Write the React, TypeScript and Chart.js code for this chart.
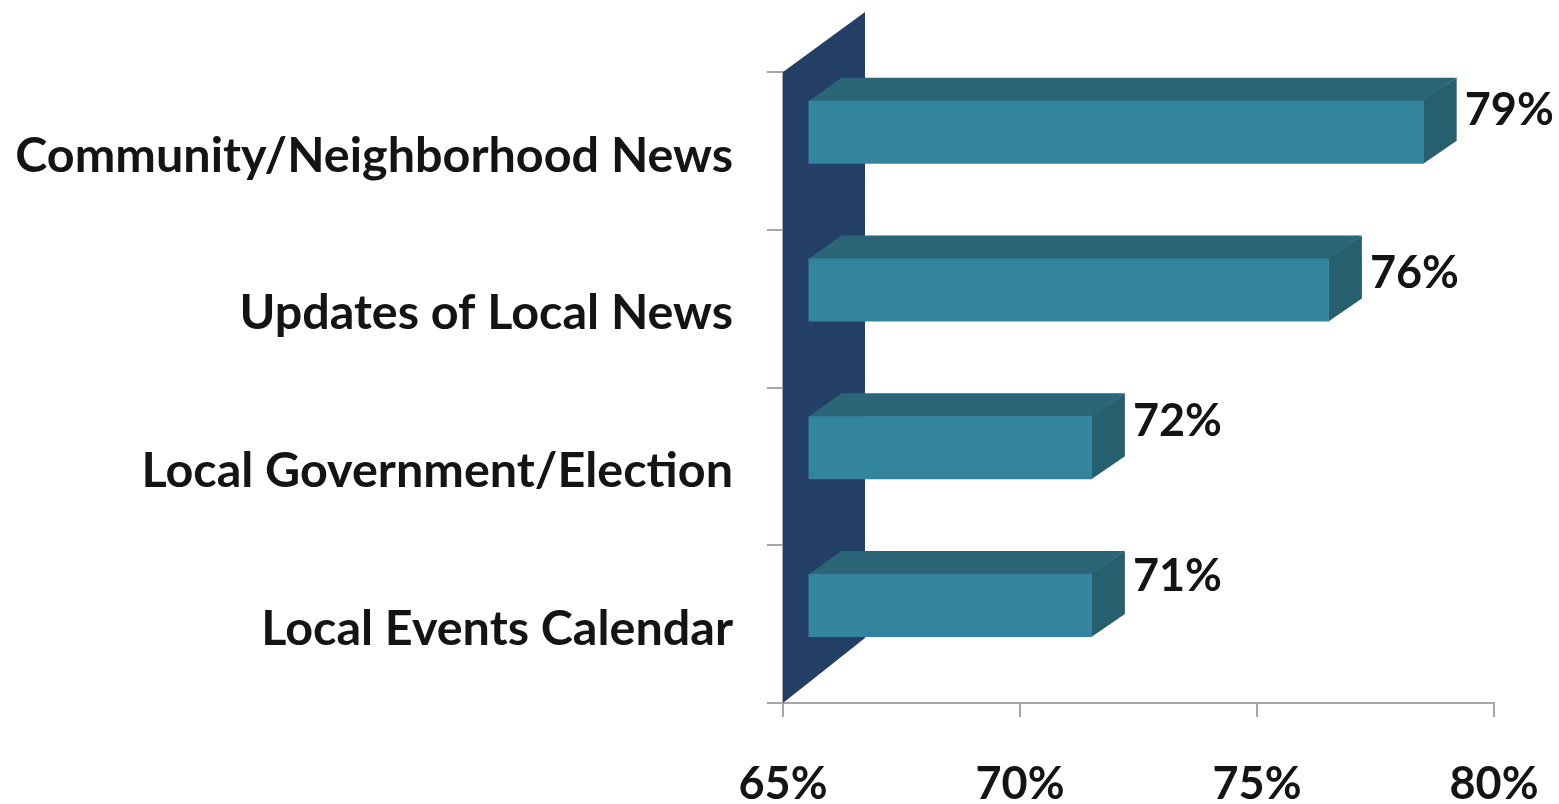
import React, { useEffect, useRef } from "react";
import { Chart, registerables } from "chart.js";

Chart.register(...registerables);

const categories = [
  "Community/Neighborhood News",
  "Updates of Local News",
  "Local Government/Election",
  "Local Events Calendar",
];
// Length of each drawn bar as it reads against the axis
const barValues = [78, 76, 71, 71];
// Data labels as printed beside each bar
const printedLabels = ["79%", "76%", "72%", "71%"];
const labelNudgeY = [-22, -17, -26, -29];
const xTicks = [65, 70, 75, 80];

const FRONT = "#33859F";
const TOP = "#2A6678";
const SIDE = "#265F6E";
const WALL = "#243F66";
const AXIS = "#A6A6A6";
const TEXT = "#141414";
const FONT = "Lato";

const SHIFT_X = 24.5;
const SHIFT_Y = -18.6;
const DEPTH_X = 33;
const DEPTH_Y = 23;

const poly = (ctx: CanvasRenderingContext2D, pts: number[][], fill: string) => {
  ctx.beginPath();
  pts.forEach(([x, y], i) => (i ? ctx.lineTo(x, y) : ctx.moveTo(x, y)));
  ctx.closePath();
  ctx.fillStyle = fill;
  ctx.fill();
};

const bar3d = {
  id: "bar3d",
  beforeDatasetsDraw(chart: any) {
    const { ctx, chartArea: a } = chart;
    poly(
      ctx,
      [
        [a.left, a.top],
        [a.left + 82, a.top - 60],
        [a.left + 82, a.bottom - 65],
        [a.left, a.bottom],
      ],
      WALL
    );
  },
  beforeDatasetDraw(chart: any) {
    const { ctx } = chart;
    const els = chart.getDatasetMeta(0).data;
    els.forEach((el: any) => {
      const half = el.height / 2;
      const top = el.y - half + SHIFT_Y;
      const bottom = el.y + half + SHIFT_Y;
      const l = el.base + SHIFT_X;
      const r = el.x + SHIFT_X;
      poly(ctx, [[l, top + 0.5], [l + DEPTH_X, top - DEPTH_Y], [r + DEPTH_X, top - DEPTH_Y], [r, top + 0.5]], TOP);
      poly(ctx, [[r - 0.5, top], [r + DEPTH_X, top - DEPTH_Y], [r + DEPTH_X, bottom - DEPTH_Y], [r - 0.5, bottom]], SIDE);
    });
    ctx.save();
    ctx.translate(SHIFT_X, SHIFT_Y);
  },
  afterDatasetDraw(chart: any) {
    const { ctx } = chart;
    ctx.restore();
    const els = chart.getDatasetMeta(0).data;
    ctx.save();
    ctx.font = `bold 45px ${FONT}`;
    ctx.fillStyle = TEXT;
    ctx.textAlign = "left";
    ctx.textBaseline = "middle";
    els.forEach((el: any, i: number) => {
      ctx.fillText(
        printedLabels[i],
        el.x + SHIFT_X + DEPTH_X + 8,
        el.y + SHIFT_Y + labelNudgeY[i]
      );
    });
    ctx.restore();
  },
};

export default function App() {
  const ref = useRef<HTMLCanvasElement>(null);
  useEffect(() => {
    const chart = new Chart(ref.current!, {
      type: "bar",
      plugins: [bar3d],
      data: {
        labels: categories,
        datasets: [
          {
            data: barValues,
            base: 65,
            backgroundColor: FRONT,
            borderWidth: 0,
            barPercentage: 0.4,
            categoryPercentage: 1,
          },
        ],
      },
      options: {
        indexAxis: "y",
        responsive: false,
        animation: false,
        layout: { padding: { top: 72, right: 65, left: 0, bottom: 0 } },
        plugins: { legend: { display: false }, tooltip: { enabled: false } },
        scales: {
          x: {
            min: 65,
            max: 80,
            afterBuildTicks: (s: any) => {
              s.ticks = xTicks.map((value) => ({ value }));
            },
            afterFit: (s: any) => {
              s.height = 101;
              s.paddingLeft = 0;
              s.paddingRight = 0;
            },
            border: { color: AXIS, width: 2 },
            grid: { drawOnChartArea: false, color: AXIS, lineWidth: 2, tickLength: 14 },
            ticks: {
              autoSkip: false,
              maxRotation: 0,
              padding: 40,
              color: TEXT,
              font: { family: FONT, size: 45, weight: "bold" },
              callback: (v: any) => `${v}%`,
            },
          },
          y: {
            afterFit: (s: any) => {
              s.width = 783;
              s.paddingTop = 0;
              s.paddingBottom = 0;
            },
            border: { color: AXIS, width: 2 },
            grid: { drawOnChartArea: false, offset: true, color: AXIS, lineWidth: 2, tickLength: 16 },
            ticks: {
              padding: 34,
              labelOffset: 5,
              color: TEXT,
              font: { family: FONT, size: 48.5, weight: "bold" },
            },
          },
        },
      },
    } as any);
    return () => chart.destroy();
  }, []);
  return (
    <canvas
      ref={ref}
      width={1559}
      height={804}
      style={{ position: "fixed", left: 0, top: 0, width: 1559, height: 804, background: "#fff", filter: "blur(0.6px)" }}
    />
  );
}
